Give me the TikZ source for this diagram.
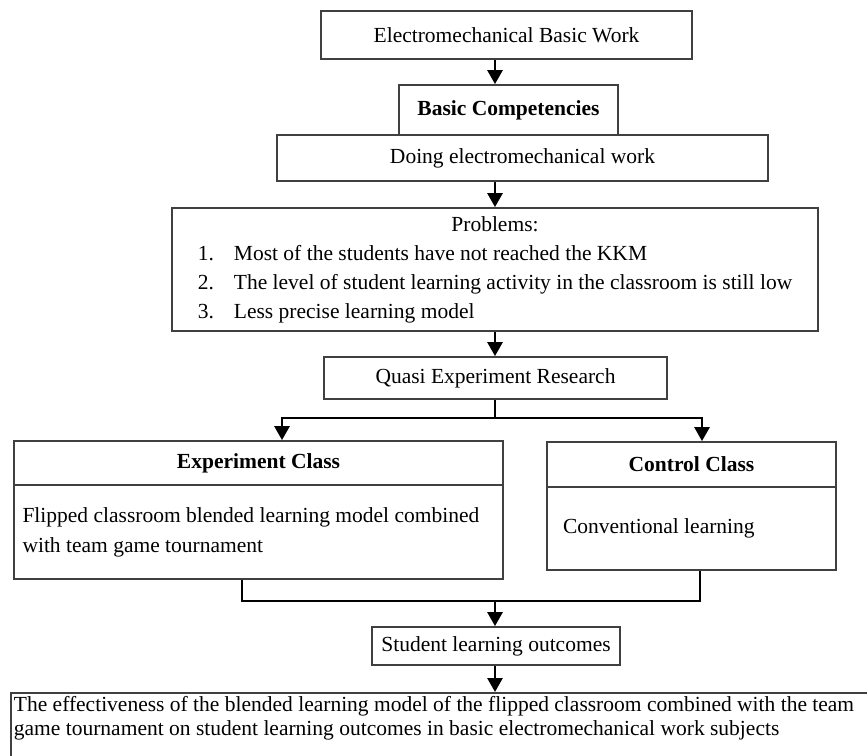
\documentclass[tikz,border=0pt]{standalone}
\usepackage{fontspec}
\setmainfont{Liberation Serif}
\usetikzlibrary{positioning,shapes,arrows.meta}
\def\px{0.5pt}
\tikzstyle{block}=[draw=black!75,line width=0.9pt,rectangle,inner sep=0pt]
\tikzstyle{link}=[line width=1.4pt]
\newcommand{\newBlock}[4]{\node[block,#3](#1)[#4]{#2};}
\newcommand{\newLink}[2]{\draw[link,->] (spine |- #1.south) -- (spine |- #2.north);}

\begin{document}
\begin{tikzpicture}[x=\px,y=-\px,
  >={Triangle[width=7.5pt,length=7pt]},
  every node/.style={font=\fontsize{10.75pt}{14.5pt}\selectfont}
  ]
  \useasboundingbox (0,0) rectangle (867,755);
  \clip (0,0) rectangle (867,755);
  \coordinate (spine) at (495,0);
  \newBlock{work}{Electromechanical Basic Work}{minimum width=185.5pt,minimum height=24pt}{at={(506.5,35)}}
  \newBlock{comp}{\textbf{Basic Competencies}}{minimum width=109.5pt,minimum height=25pt}{at={(508.5,110)}}
  \newBlock{doing}{Doing electromechanical work}{minimum width=245.5pt,minimum height=23pt}{at={(522.5,158)}}
  \newBlock{prob}{\begin{tabular}{@{}r@{\hspace{10pt}}l@{}}
    \multicolumn{2}{c}{Problems:}\\
    1.&Most of the students have not reached the KKM\\
    2.&The level of student learning activity in the classroom is still low\\
    3.&Less precise learning model
    \end{tabular}}{minimum width=323pt,minimum height=61.5pt}{at={(495,269.5)}}
  \newBlock{quasi}{Quasi Experiment Research}{minimum width=171.5pt,minimum height=21pt}{at={(495.5,378)}}
  \newBlock{exphead}{\textbf{Experiment Class}}{minimum width=244.5pt,minimum height=22pt}{at={(258.5,463)}}
  \newBlock{expbody}{Flipped classroom blended learning model combined\\with team game tournament}{text width=236pt,inner xsep=4.25pt,align=flush left,minimum height=47pt,font=\fontsize{10.75pt}{15pt}\selectfont}{at={(258.5,532)}}
  \newBlock{ctlhead}{\textbf{Control Class}}{minimum width=144.5pt,minimum height=22.5pt}{at={(691.5,464.5)}}
  \newBlock{ctlbody}{Conventional learning}{text width=128.5pt,inner xsep=8pt,align=flush left,minimum height=41.5pt}{at={(691.5,528.5)}}
  \newBlock{outcome}{Student learning outcomes}{minimum width=124pt,minimum height=19pt}{at={(496,646)}}
  \newBlock{effect}{The effectiveness of the blended learning model of the flipped classroom combined with the team\\game tournament on student learning outcomes in basic electromechanical work subjects}{anchor=north west,text width=470pt,align=flush left,inner sep=1.5pt,text depth=30pt,font=\fontsize{10.75pt}{12pt}\selectfont}{at={(10,692)}}
  \newLink{work}{comp}
  \newLink{doing}{prob}
  \newLink{prob}{quasi}
  \coordinate (split) at (495,418);
  \draw[link] (spine |- quasi.south) -- (split);
  \draw[link,->] (split) -| ([xshift=11.75pt]exphead.north);
  \draw[link,->] (split) -| ([xshift=5.25pt]ctlhead.north);
  \coordinate (merge) at (495,601);
  \draw[link] ([xshift=-8.25pt]expbody.south) |- (merge) -| ([xshift=4.25pt]ctlbody.south);
  \draw[link,->] (merge) -- (spine |- outcome.north);
  \newLink{outcome}{effect}
\end{tikzpicture}
\end{document}
